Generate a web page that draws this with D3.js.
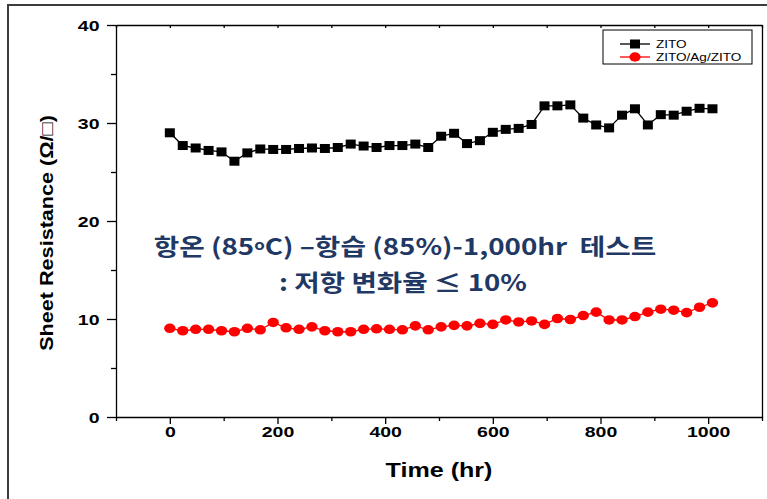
<!DOCTYPE html>
<html>
<head>
<meta charset="utf-8">
<script src="https://cdn.jsdelivr.net/npm/d3@7"></script>
<style>
  html, body { margin: 0; padding: 0; background: #fff; }
  svg { display: block; }
  text { white-space: pre; }
</style>
</head>
<body>
<svg id="chart" width="767" height="499"></svg>
<script>
// Sheet resistance during the 85 °C / 85 % RH reliability test
const hours = [0, 24, 48, 72, 96, 120, 144, 168, 192, 216, 240, 264, 288, 312, 336, 360,
  384, 408, 432, 456, 480, 504, 528, 552, 576, 600, 624, 648, 672, 696, 720, 744,
  768, 792, 816, 840, 864, 888, 912, 936, 960, 984, 1008];

const zito = [29.0, 27.7, 27.45, 27.2, 27.05, 26.1, 26.95, 27.35, 27.3, 27.3, 27.4, 27.45,
  27.4, 27.5, 27.85, 27.65, 27.5, 27.7, 27.7, 27.85, 27.5, 28.65, 28.95, 27.9, 28.2,
  29.05, 29.35, 29.45, 29.85, 31.75, 31.75, 31.85, 30.5, 29.8, 29.5, 30.8, 31.45, 29.8,
  30.85, 30.8, 31.2, 31.5, 31.45];

const zitoAgZito = [9.05, 8.8, 8.95, 8.95, 8.8, 8.7, 9.05, 8.9, 9.65, 9.1, 8.95, 9.2,
  8.8, 8.7, 8.7, 8.95, 9.0, 8.95, 8.9, 9.3, 8.9, 9.2, 9.35, 9.3, 9.55, 9.45, 9.9, 9.7,
  9.8, 9.45, 10.05, 9.95, 10.35, 10.7, 9.9, 9.9, 10.25, 10.7, 11.0, 10.9, 10.65, 11.2, 11.65];

const seriesNames = ["ZITO", "ZITO/Ag/ZITO"];
const xTicks = [0, 200, 400, 600, 800, 1000];
const xMinorTicks = [-100, 100, 300, 500, 700, 900, 1100];
const yTicks = [0, 10, 20, 30, 40];
const yMinorTicks = [5, 15, 25, 35];
const xTitle = "Time (hr)";
const yTitle = "Sheet Resistance (Ω/□)";
const noteLine1 = ["항온 (85", "o", "C) –항습 (85%)-1,000hr  테스트"];
const noteLine2 = ": 저항 변화율 ≤ 10%";

const svg = d3.select("#chart");
const latin = "'Liberation Sans', Arial, 'DejaVu Sans', sans-serif";
const korean = "'Noto Sans CJK KR', 'Noto Sans', sans-serif";
const navy = "#1f3864";
const wide = 1.3; // horizontal stretch of the axis lettering

const x = d3.scaleLinear().domain([-100, 1100]).range([116, 762]);
const y = d3.scaleLinear().domain([0, 40]).range([417, 25]);

// outer frame
svg.append("path")
  .attr("d", "M8,499 V5 H767")
  .attr("fill", "none").attr("stroke", "#3c3c3c").attr("stroke-width", 2);

// horizontal scale factor that brings a text element to the given width
function fitWidth(sel, width) {
  const w = sel.node().getComputedTextLength();
  return width / w;
}

function styleAxis(g) {
  g.selectAll("path.domain").attr("stroke", "#000").attr("stroke-width", 1.3);
  g.selectAll(".tick line").attr("stroke", "#000").attr("stroke-width", 1.3);
}

// left axis
const gy = svg.append("g").attr("transform", `translate(${x(-100)},0)`)
  .call(d3.axisLeft(y).tickValues(yTicks).tickSize(9).tickSizeOuter(0).tickFormat(d3.format("d")));
gy.selectAll(".tick text")
  .attr("x", -16.5 / wide).attr("dy", "0.36em")
  .attr("transform", `scale(${wide},1)`)
  .style("font-family", latin).style("font-weight", "bold").style("font-size", "15px")
  .attr("fill", "#000");
styleAxis(gy);
const gyMinor = svg.append("g").attr("transform", `translate(${x(-100)},0)`)
  .call(d3.axisLeft(y).tickValues(yMinorTicks).tickSize(5).tickSizeOuter(0).tickFormat(""));
gyMinor.select("path.domain").remove();
styleAxis(gyMinor);

// bottom axis
const gx = svg.append("g").attr("transform", `translate(0,${y(0)})`)
  .call(d3.axisBottom(x).tickValues(xTicks).tickSize(7).tickSizeOuter(0).tickFormat(d3.format("d")));
gx.selectAll(".tick text")
  .attr("y", 15).attr("dy", "0.36em")
  .attr("transform", `scale(${wide},1)`)
  .style("font-family", latin).style("font-weight", "bold").style("font-size", "15px")
  .attr("fill", "#000");
styleAxis(gx);
const gxMinor = svg.append("g").attr("transform", `translate(0,${y(0)})`)
  .call(d3.axisBottom(x).tickValues(xMinorTicks).tickSize(4).tickSizeOuter(0).tickFormat(""));
gxMinor.select("path.domain").remove();
styleAxis(gxMinor);

// top and right frame of the plot
const gTop = svg.append("g").attr("transform", `translate(0,${y(40)})`)
  .call(d3.axisBottom(x).tickValues(xTicks.concat(xMinorTicks)).tickSize(3).tickSizeOuter(0).tickFormat(""));
styleAxis(gTop);
const gRight = svg.append("g").attr("transform", `translate(${x(1100)},0)`)
  .call(d3.axisRight(y).tickValues([]).tickSizeOuter(0));
styleAxis(gRight);

// axis titles
const xt = svg.append("text").text(xTitle)
  .attr("text-anchor", "middle").attr("dy", "0.36em")
  .style("font-family", latin).style("font-weight", "bold").style("font-size", "20px");
xt.attr("transform", `translate(439,470) scale(${fitWidth(xt, 107)},1)`);

const yt = svg.append("text").text(yTitle)
  .attr("text-anchor", "middle").attr("dy", "0.36em")
  .style("font-family", latin).style("font-weight", "bold").style("font-size", "18px");
yt.attr("transform", `translate(47,233) rotate(-90) scale(${fitWidth(yt, 236)},1)`);

// series
const pts = (vals) => hours.map((h, i) => [h, vals[i]]);
const line = d3.line().x(d => x(d[0])).y(d => y(d[1]));

svg.append("path").datum(pts(zito))
  .attr("d", line).attr("fill", "none").attr("stroke", "#000").attr("stroke-width", 1.3);
svg.append("g").selectAll("rect").data(pts(zito)).join("rect")
  .attr("x", d => x(d[0]) - 5).attr("y", d => y(d[1]) - 4.5)
  .attr("width", 10).attr("height", 9).attr("fill", "#000");

svg.append("path").datum(pts(zitoAgZito))
  .attr("d", line).attr("fill", "none").attr("stroke", "#ff0000").attr("stroke-width", 1.3);
svg.append("g").selectAll("ellipse").data(pts(zitoAgZito)).join("ellipse")
  .attr("cx", d => x(d[0])).attr("cy", d => y(d[1]))
  .attr("rx", 5.7).attr("ry", 4.8).attr("fill", "#ff0000");

// legend
const lg = svg.append("g");
lg.append("rect").attr("x", 603).attr("y", 30).attr("width", 149).attr("height", 34)
  .attr("fill", "#fff").attr("stroke", "#000").attr("stroke-width", 1);
const rows = [{ name: seriesNames[0], color: "#000", shape: "square", cy: 44 },
              { name: seriesNames[1], color: "#ff0000", shape: "circle", cy: 57 }];
rows.forEach(r => {
  lg.append("line").attr("x1", 620).attr("x2", 650).attr("y1", r.cy).attr("y2", r.cy)
    .attr("stroke", r.color).attr("stroke-width", 1.3);
  if (r.shape === "square") {
    lg.append("rect").attr("x", 630).attr("y", r.cy - 4.5).attr("width", 10).attr("height", 9).attr("fill", r.color);
  } else {
    lg.append("ellipse").attr("cx", 635).attr("cy", r.cy).attr("rx", 5.6).attr("ry", 4.7).attr("fill", r.color);
  }
  lg.append("text").text(r.name).attr("dy", "0.36em")
    .attr("transform", `translate(656,${r.cy}) scale(1.29,1)`)
    .style("font-family", latin).style("font-size", "10.5px").attr("fill", "#000");
});

// test condition note
const n1 = svg.append("text").attr("text-anchor", "middle").attr("dy", "0.36em")
  .style("font-family", korean).style("font-weight", "bold").style("font-size", "23px")
  .attr("fill", navy);
n1.append("tspan").text(noteLine1[0]);
n1.append("tspan").text(noteLine1[1]).attr("font-size", "14px").attr("baseline-shift", "40%");
n1.append("tspan").text(noteLine1[2]);
n1.attr("transform", `translate(405,247) scale(${fitWidth(n1, 503)},1)`);

const n2 = svg.append("text").text(noteLine2).attr("text-anchor", "middle").attr("dy", "0.36em")
  .style("font-family", korean).style("font-weight", "bold").style("font-size", "23px")
  .attr("fill", navy);
n2.attr("transform", `translate(403,283) scale(${fitWidth(n2, 248)},1)`);
</script>
</body>
</html>
